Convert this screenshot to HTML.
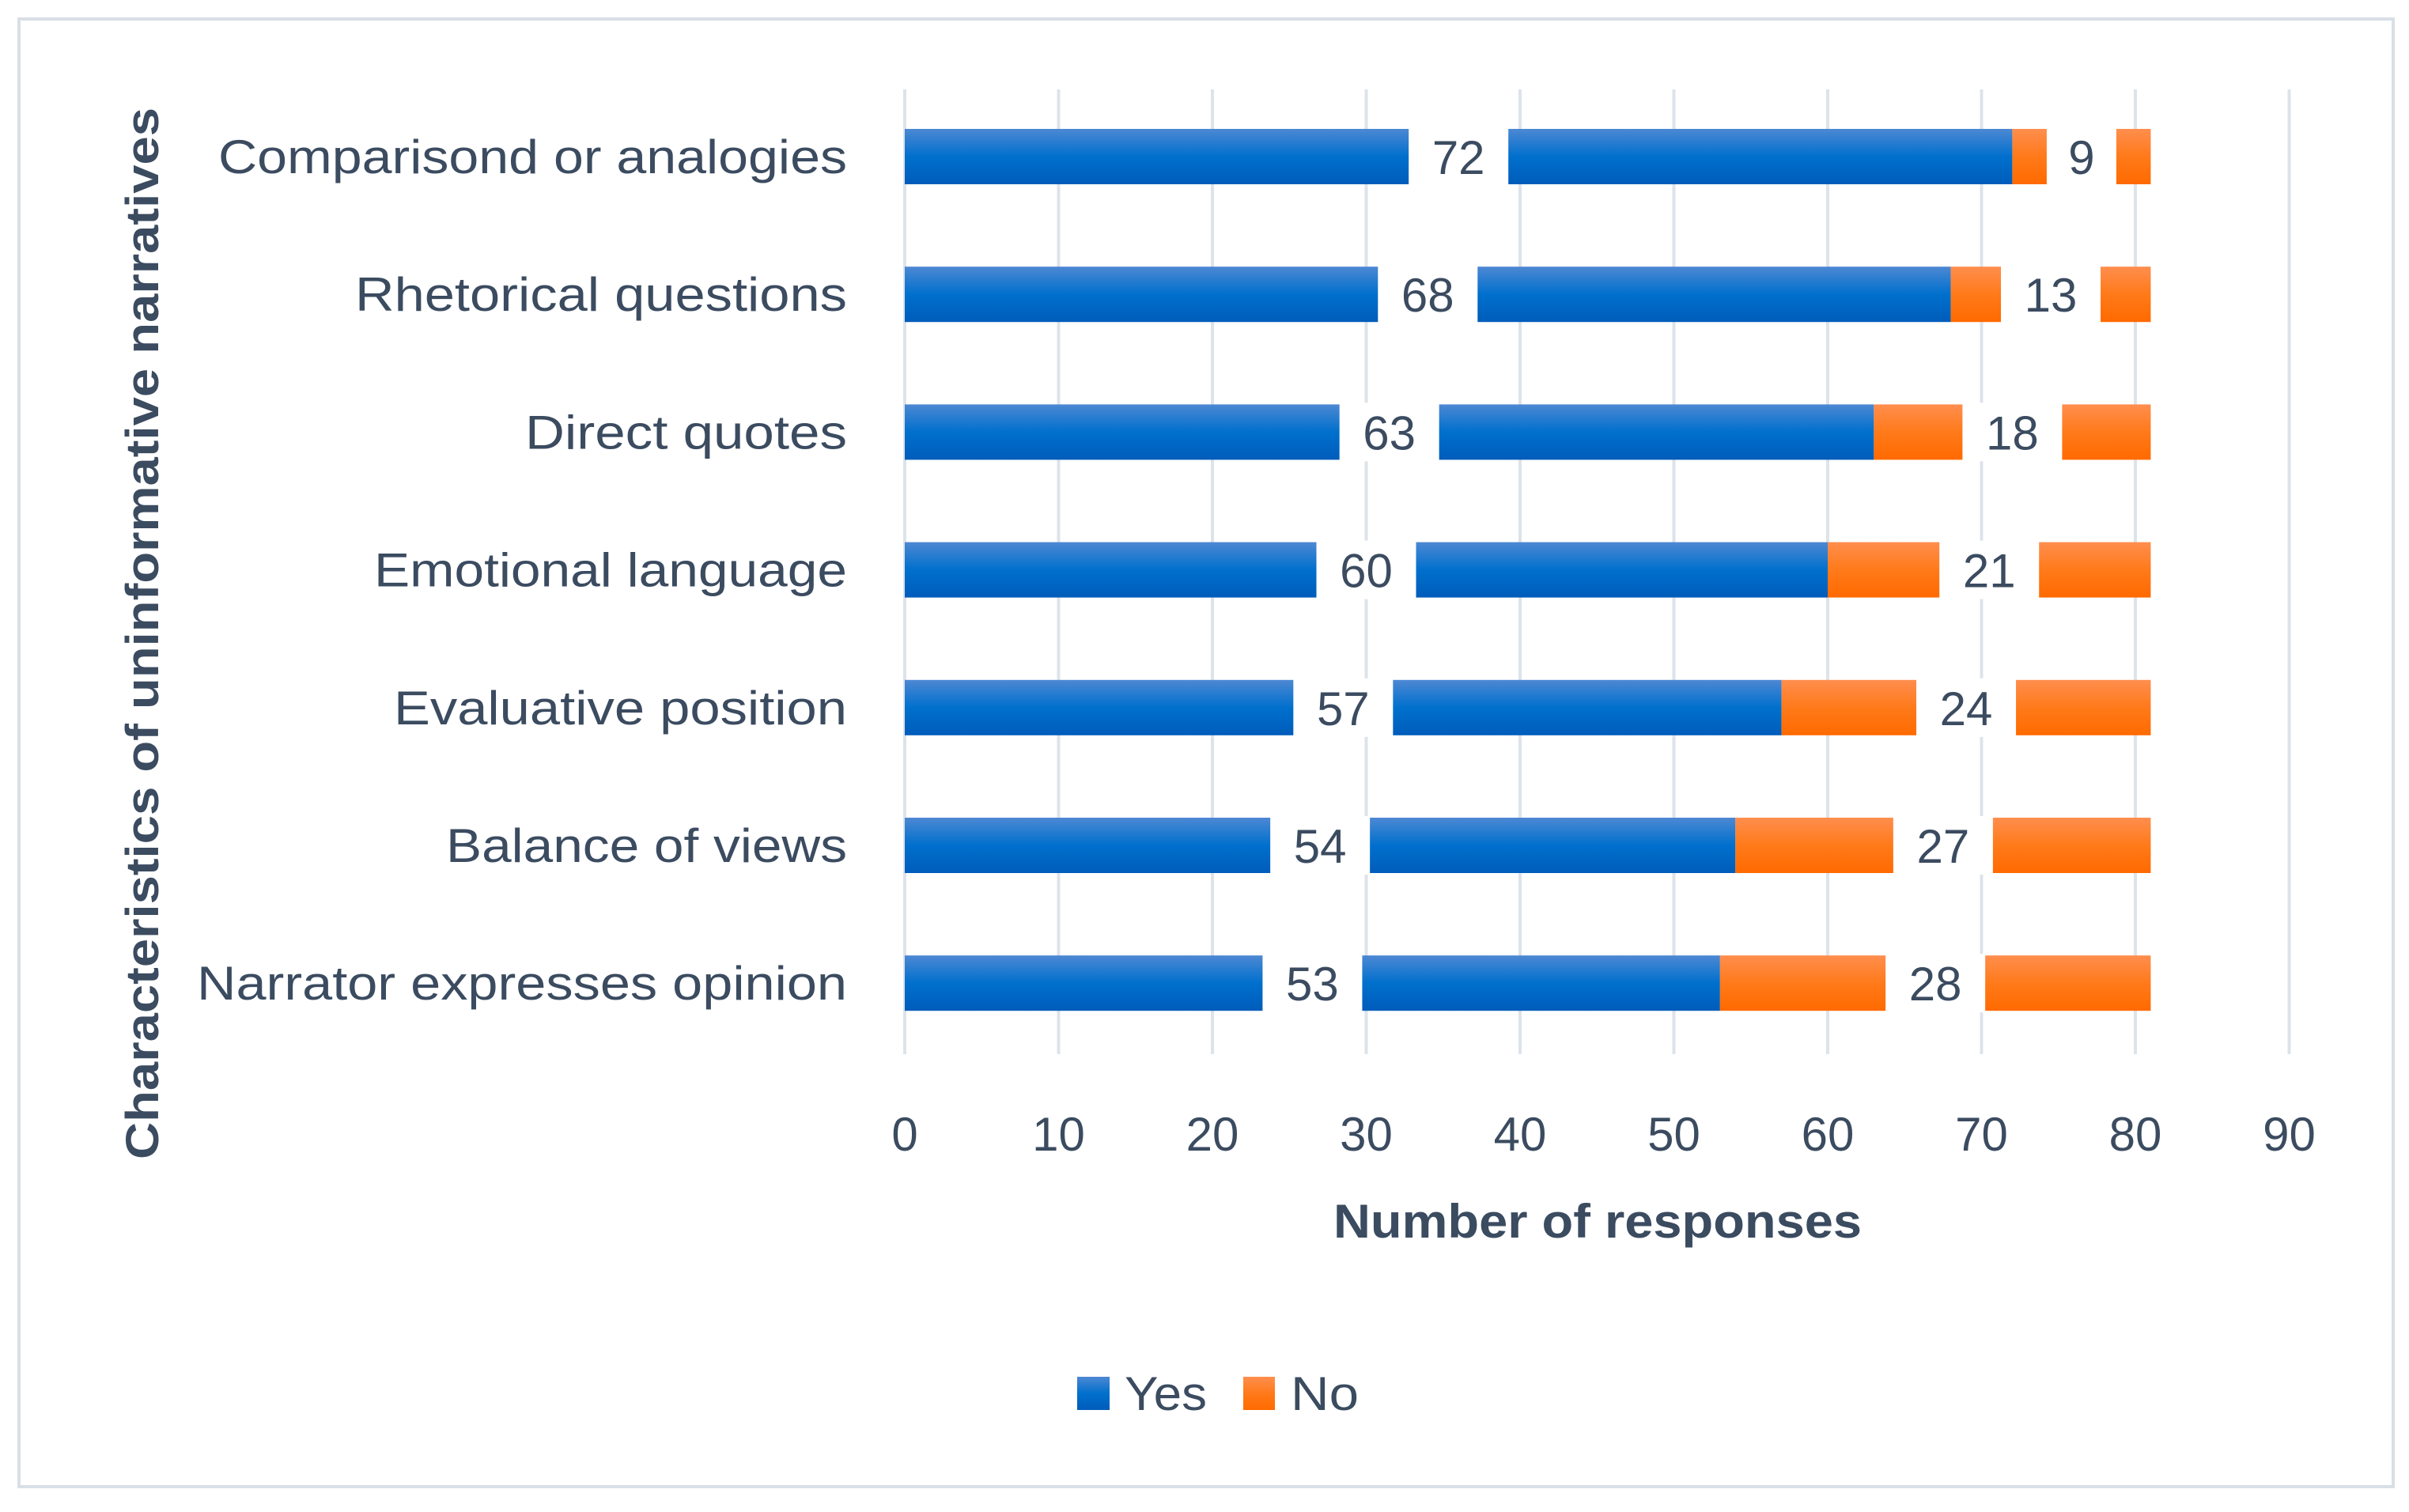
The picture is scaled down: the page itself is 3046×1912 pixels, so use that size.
<!DOCTYPE html>
<html><head><meta charset="utf-8"><style>
html,body{margin:0;padding:0;background:#fff;}
svg{display:block;font-family:"Liberation Sans",sans-serif;}
</style></head><body>
<svg id="chart" width="3046" height="1912" viewBox="0 0 3046 1912" xmlns="http://www.w3.org/2000/svg">
<defs>
<linearGradient id="gBlue" x1="0" y1="0" x2="0" y2="1"><stop offset="0" stop-color="#4d88d3"/><stop offset="0.5" stop-color="#0070cd"/><stop offset="1" stop-color="#005cba"/></linearGradient>
<linearGradient id="gOrange" x1="0" y1="0" x2="0" y2="1"><stop offset="0" stop-color="#ff8e4e"/><stop offset="0.5" stop-color="#ff7a1a"/><stop offset="1" stop-color="#ff6a00"/></linearGradient>
</defs>
<rect x="24" y="24" width="3002" height="1856" fill="#fff" stroke="#d9dfe6" stroke-width="4"/>
<g id="grid"></g>
<g id="bars"></g>
<g id="cats"></g>
<g id="ticks"></g>
<text x="2020" y="1565" text-anchor="middle" font-size="60" font-weight="bold" fill="#3b4b60" textLength="668" lengthAdjust="spacingAndGlyphs">Number of responses</text>
<text transform="translate(200,801) rotate(-90)" text-anchor="middle" font-size="58" font-weight="bold" fill="#3b4b60" textLength="1330" lengthAdjust="spacingAndGlyphs">Characteristics of uninformative narratives</text>
<g>
<rect x="1362" y="1741" width="41" height="42" fill="url(#gBlue)"/>
<text x="1422" y="1783" font-size="60" fill="#3b4b60" textLength="104" lengthAdjust="spacingAndGlyphs">Yes</text>
<rect x="1572" y="1741" width="40" height="42" fill="url(#gOrange)"/>
<text x="1632" y="1783" font-size="60" fill="#3b4b60" textLength="86" lengthAdjust="spacingAndGlyphs">No</text>
</g>
</svg>
<script>
const categories = ["Comparisond or analogies","Rhetorical questions","Direct quotes","Emotional language","Evaluative position","Balance of views","Narrator expresses opinion"];
const yesValues = [72,68,63,60,57,54,53];
const noValues = [9,13,18,21,24,27,28];
const tickValues = [0,10,20,30,40,50,60,70,80,90];
const catWidths = [795,622,407,598,573,507,822];

const NS = "http://www.w3.org/2000/svg";
const x0 = 1144, pxPerUnit = 19.45;
const xs = v => x0 + v * pxPerUnit;
const rowTop = 198, rowStep = 174.2, barH = 70;
const ys = i => rowTop + i * rowStep;
function mk(tag, attrs, parent){const e=document.createElementNS(NS,tag);for(const k in attrs)e.setAttribute(k,attrs[k]);parent.appendChild(e);return e;}
const grid=document.getElementById('grid'), bars=document.getElementById('bars'), cats=document.getElementById('cats'), ticks=document.getElementById('ticks');
tickValues.forEach(t=>{
  const l=mk('line',{x1:xs(t),x2:xs(t),y1:113,y2:1333,stroke:'#dde3ea','stroke-width':4},grid);
  
  
  const tx=mk('text',{x:xs(t),y:1455,'text-anchor':'middle','font-size':60,fill:'#3b4b60'},ticks);
  tx.textContent=t;
  
  
});
categories.forEach((c,i)=>{
  const cy=ys(i);
  const ct=mk('text',{x:1071,y:cy+21,'text-anchor':'end','font-size':60,fill:'#3b4b60',textLength:catWidths[i],lengthAdjust:'spacingAndGlyphs'},cats);
  ct.textContent=c;
  
  
  const y=yesValues[i], n=noValues[i];
  const by=mk('rect',{x:xs(0),y:cy-barH/2,width:xs(y)-xs(0),height:barH,fill:'url(#gBlue)'},bars);
  
  
  const bn=mk('rect',{x:xs(y),y:cy-barH/2,width:xs(y+n)-xs(y),height:barH,fill:'url(#gOrange)'},bars);
  
  
  [[y/2,y],[y+n/2,n]].forEach(([center,val])=>{
    const w=String(val).length*38+50;
    const r=mk('rect',{x:xs(center)-w/2,y:cy-barH/2-2,width:w,height:barH+4,fill:'#fff'},bars);
    
    
    const t=mk('text',{x:xs(center),y:cy+22,'text-anchor':'middle','font-size':60,fill:'#3b4b60'},bars);
    t.textContent=val;
    
    
  });
});
</script>
</body></html>
